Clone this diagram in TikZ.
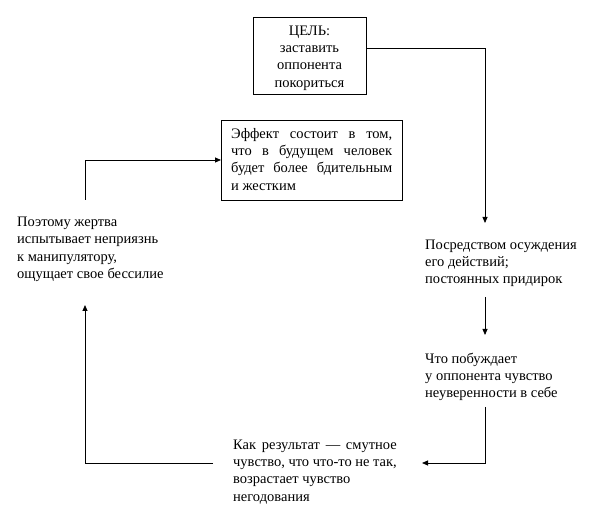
\documentclass[tikz,border=0pt]{standalone}
\usepackage{fontspec}
\usepackage{calc}
\setmainfont{Liberation Serif}
\usetikzlibrary{arrows.meta}
\newcommand{\jline}[2]{\makebox[#1][s]{#2}}
\begin{document}
\begin{tikzpicture}[x=1pt,y=-1pt,
  txt/.style={inner sep=0pt,anchor=north west,align=left,font=\fontsize{14.5}{17.3}\selectfont},
  boxed/.style={draw,line width=0.8pt,inner sep=0pt},
  conn/.style={line width=0.8pt,-{Triangle[length=6pt,width=5pt]}},
  plain/.style={line width=0.8pt}]
\useasboundingbox (0,0) rectangle (614,513);
% boxes
\node[boxed,minimum width=113pt,minimum height=77pt,anchor=north west] (goal) at (253,17) {};
\node[inner sep=0pt,align=center,font=\fontsize{14.5}{17.3}\selectfont] (goalt) at (309.5,58) {ЦЕЛЬ:\\заставить\\оппонента\\покориться};
\node[boxed,minimum width=181pt,minimum height=80pt,anchor=north west] (eff) at (221,120) {};
\node[txt] (efft) at (231,128) {\jline{161pt}{Эффект состоит в том,}\\\jline{161pt}{что в будущем человек}\\\jline{161pt}{будет более бдительным}\\и жестким};
% texts
\node[txt] (s1) at (425,239.5) {Посредством осуждения\\его действий;\\постоянных придирок};
\node[txt] (s2) at (425,352.5) {Что побуждает\\у оппонента чувство\\неуверенности в себе};
\node[txt] (s3) at (233,439.5) {\jline{\widthof{чувство, что что-то не так,}}{Как результат — смутное}\\чувство, что что-то не так,\\возрастает чувство\\негодования};
\node[txt] (s4) at (17,217) {Поэтому жертва\\испытывает неприязнь\\к манипулятору,\\ощущает свое бессилие};
% coordinates
\coordinate (a1) at (366,48);
\coordinate (a2) at (485,48);
\coordinate (a3) at (485,223);
\coordinate (b1) at (485,297);
\coordinate (b2) at (485,335);
\coordinate (c1) at (485,407);
\coordinate (c2) at (485,463);
\coordinate (c3) at (422,463);
\coordinate (d1) at (213,463);
\coordinate (d2) at (85,463);
\coordinate (d3) at (85,305);
\coordinate (e1) at (85,200);
\coordinate (e2) at (85,160);
\coordinate (e3) at (221,160);
% connectors
\draw[conn] (a1) -- (a2) -- (a3);
\draw[conn] (b1) -- (b2);
\draw[conn] (c1) -- (c2) -- (c3);
\draw[conn] (d1) -- (d2) -- (d3);
\draw[conn] (e1) -- (e2) -- (eff.west |- e3);
\end{tikzpicture}
\end{document}
